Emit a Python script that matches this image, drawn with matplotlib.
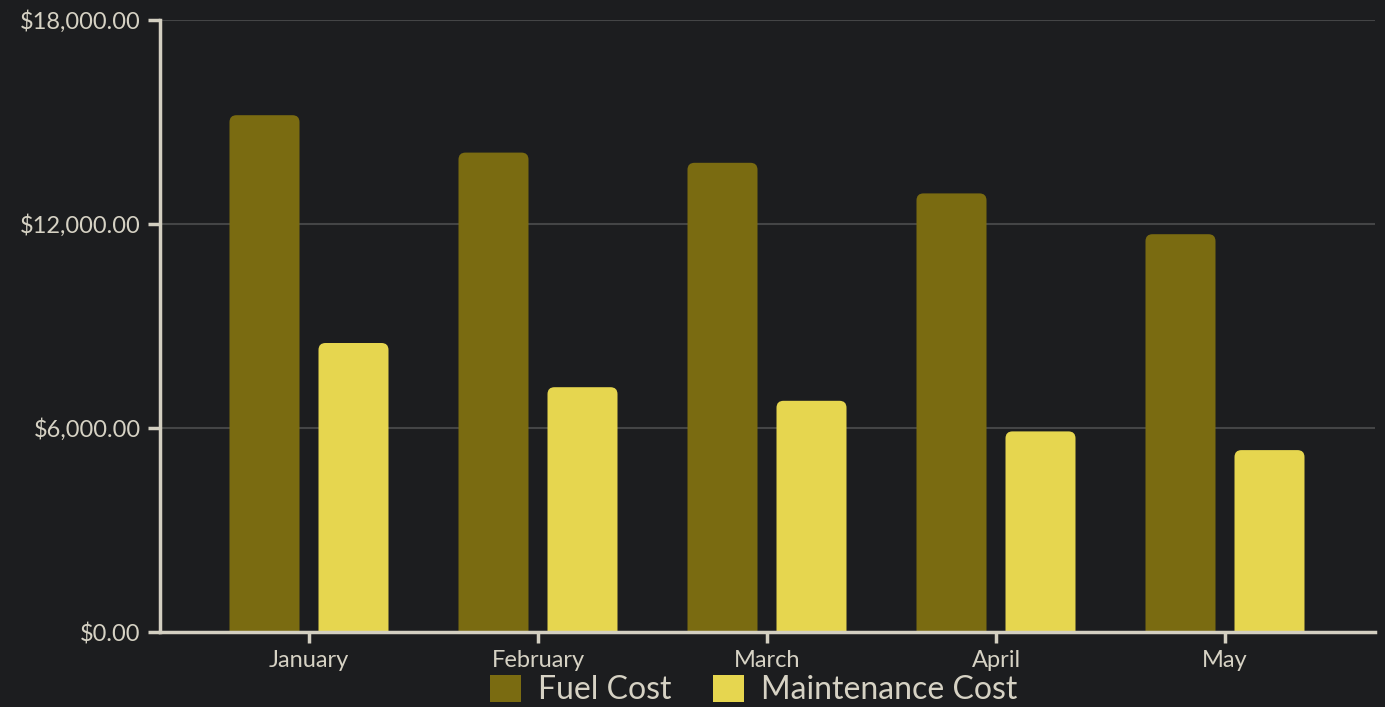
import matplotlib
matplotlib.use("Agg")
import matplotlib.pyplot as plt
from matplotlib.patches import PathPatch, Patch
from matplotlib.path import Path
from matplotlib.ticker import FuncFormatter
import numpy as np

months = ["January", "February", "March", "April", "May"]
fuel_cost = [15200, 14100, 13800, 12900, 11700]
maintenance_cost = [8500, 7200, 6800, 5900, 5350]
series_names = ["Fuel Cost", "Maintenance Cost"]
y_ticks = [0, 6000, 12000, 18000]

BG = "#1c1d1f"
FUEL = "#7a6b11"
MAINT = "#e6d64f"
AXC = "#d3cfc1"
TXT = "#d6d2c4"
GRID = "#444546"

plt.rcParams['font.family'] = ['Lato', 'DejaVu Sans']

W, H = 1385, 707
fig = plt.figure(figsize=(W / 100, H / 100), dpi=100, facecolor=BG)
ax = fig.add_axes([160 / W, (H - 632) / H, 1215 / W, 612 / H], facecolor=BG)

step_px = 229.0
x = np.arange(len(months))
ax.set_xlim(-(309 - 160) / step_px, (1375 - 309) / step_px)
ax.set_ylim(0, 18000)

bw = 70 / step_px
off = 44.5 / step_px

bars1 = ax.bar(x - off, fuel_cost, width=bw, color=FUEL)
bars2 = ax.bar(x + off, maintenance_cost, width=bw, color=MAINT)

# rounded top corners
ypx = 18000 / 612.0
rx = 7 / step_px
ry = 7 * ypx
for bars, col in ((bars1, FUEL), (bars2, MAINT)):
    for b in bars:
        x0, y0 = b.get_x(), b.get_y()
        w, h = b.get_width(), b.get_height()
        b.set_visible(False)
        x1, y1 = x0 + w, y0 + h
        verts = [(x0, y0), (x0, y1 - ry), (x0, y1), (x0 + rx, y1),
                 (x1 - rx, y1), (x1, y1), (x1, y1 - ry), (x1, y0), (x0, y0)]
        codes = [Path.MOVETO, Path.LINETO, Path.CURVE3, Path.CURVE3,
                 Path.LINETO, Path.CURVE3, Path.CURVE3, Path.LINETO, Path.CLOSEPOLY]
        ax.add_patch(PathPatch(Path(verts, codes), fc=col, ec="none", zorder=3))

ax.set_yticks(y_ticks)
ax.yaxis.set_major_formatter(FuncFormatter(lambda v, p: f"${v:,.2f}"))
ax.set_xticks(x)
ax.set_xticklabels(months)

ax.grid(axis="y", color=GRID, linewidth=1.5, zorder=0)
ax.set_axisbelow(True)
for s in ("top", "right"):
    ax.spines[s].set_visible(False)
for s in ("left", "bottom"):
    ax.spines[s].set_color(AXC)
    ax.spines[s].set_linewidth(2.5)
    ax.spines[s].set_zorder(4)

ax.tick_params(axis="y", colors=AXC, length=9, width=2.5, pad=5, labelsize=17, labelcolor=TXT)
ax.tick_params(axis="x", colors=AXC, length=8, width=2.5, pad=5, labelsize=17, labelcolor=TXT)

handles = [Patch(fc=FUEL, ec="none"), Patch(fc=MAINT, ec="none")]
leg = fig.legend(handles, series_names, loc="center", bbox_to_anchor=(754 / W, (H - 690) / H),
                 ncol=2, frameon=False, fontsize=23, labelcolor=TXT,
                 handlelength=0.95, handleheight=0.95, columnspacing=1.3, handletextpad=0.55,
                 borderpad=0, borderaxespad=0)

fig.savefig("out.png", dpi=100, facecolor=BG)
